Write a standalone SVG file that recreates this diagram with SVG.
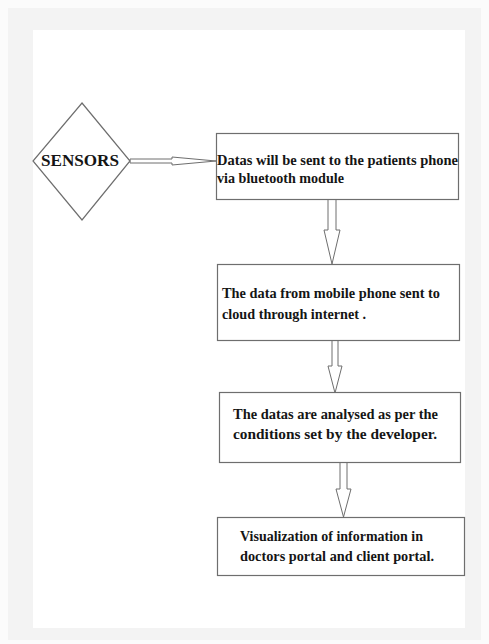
<svg xmlns="http://www.w3.org/2000/svg" width="489" height="644" viewBox="0 0 489 644">
<style>
.shape{fill:#ffffff;stroke:#6e6e6e;stroke-width:1.2}
.arrow{fill:#ffffff;stroke:#6e6e6e;stroke-width:1}
.t{font-family:"Liberation Serif","Times New Roman",serif;font-weight:bold;font-size:15px;fill:#151515}
.big{font-size:17px}
</style>
<rect x="0" y="0" width="489" height="644" fill="#fbfbfb"/>
<rect x="8" y="8" width="473" height="632" fill="#f3f3f3"/>
<rect x="33" y="30" width="432" height="598" fill="#ffffff"/>
<g id="connectors">
<polygon class="arrow" points="130,159 172,159 172,157 216,161 172,165 172,163 130,163"/>
<polygon class="arrow" points="328,199 336,199 336,230 340,230 332,264 324,230 328,230"/>
<polygon class="arrow" points="332,340 338,340 338,366 342,366 335,393 328,366 332,366"/>
<polygon class="arrow" points="340,462 347,462 347,489 351,489 343.5,517 336,489 340,489"/>
</g>
<g id="sensors">
<polygon class="shape" points="82,103 130,161 82,220 33,161"/>
<text class="t big" x="41" y="166" textLength="78" lengthAdjust="spacingAndGlyphs">SENSORS</text>
</g>
<g id="step1">
<rect class="shape" x="216.5" y="133.5" width="242" height="66"/>
<text class="t" x="217" y="165" textLength="241" lengthAdjust="spacingAndGlyphs">Datas will be sent to the patients phone</text>
<text class="t" x="217" y="183" textLength="127" lengthAdjust="spacingAndGlyphs">via bluetooth module</text>
</g>
<g id="step2">
<rect class="shape" x="217.5" y="264.5" width="242" height="76"/>
<text class="t" x="222" y="298" textLength="218" lengthAdjust="spacingAndGlyphs">The data from mobile phone sent to</text>
<text class="t" x="222" y="319" textLength="144" lengthAdjust="spacingAndGlyphs">cloud through internet .</text>
</g>
<g id="step3">
<rect class="shape" x="219.5" y="392.5" width="241" height="70"/>
<text class="t" x="233" y="419" textLength="205" lengthAdjust="spacingAndGlyphs">The datas are analysed as per the</text>
<text class="t" x="233" y="439" textLength="204" lengthAdjust="spacingAndGlyphs">conditions set by the developer.</text>
</g>
<g id="step4">
<rect class="shape" x="217.5" y="517.5" width="247" height="58"/>
<text class="t" x="240" y="541" textLength="183" lengthAdjust="spacingAndGlyphs">Visualization of information in</text>
<text class="t" x="240" y="561" textLength="194" lengthAdjust="spacingAndGlyphs">doctors portal and client portal.</text>
</g>
</svg>
